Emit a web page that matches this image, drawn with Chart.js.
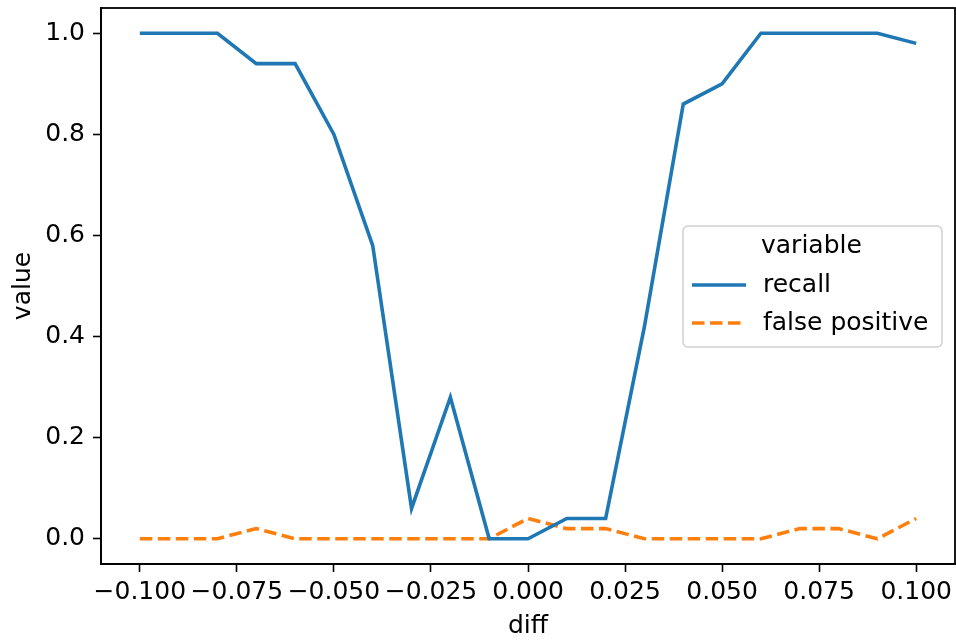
<!DOCTYPE html>
<html>
<head>
<meta charset="utf-8">
<script src="https://cdn.jsdelivr.net/npm/chart.js@4/dist/chart.umd.min.js"></script>
<style>
  html, body { margin: 0; padding: 0; background: #fff; }
  #wrap { width: 956px; height: 641px; }
</style>
</head>
<body>
<div id="wrap"><canvas id="chart" width="956" height="641"></canvas></div>
<script>
'use strict';

// ── Data ──────────────────────────────────────────────────────────────────────

const diffs = [
  -0.10, -0.09, -0.08, -0.07, -0.06, -0.05, -0.04, -0.03, -0.02, -0.01, 0.00,
  0.01, 0.02, 0.03, 0.04, 0.05, 0.06, 0.07, 0.08, 0.09, 0.10,
];
const recall = [
  1.0, 1.0, 1.0, 0.94, 0.94, 0.80, 0.58, 0.06, 0.28, 0.0, 0.0,
  0.04, 0.04, 0.42, 0.86, 0.90, 1.0, 1.0, 1.0, 1.0, 0.98,
];
const falsePositive = [
  0.0, 0.0, 0.0, 0.02, 0.0, 0.0, 0.0, 0.0, 0.0, 0.0, 0.04,
  0.02, 0.02, 0.0, 0.0, 0.0, 0.0, 0.02, 0.02, 0.0, 0.04,
];
const xTicks = [-0.1, -0.075, -0.05, -0.025, 0, 0.025, 0.05, 0.075, 0.1];
const yTicks = [0, 0.2, 0.4, 0.6, 0.8, 1.0];

const BLUE = '#1f77b4';
const ORANGE = '#ff7f0e';
const FONT = 'DejaVu Sans';
const FONT_SIZE = 25;
const LINE_W = 3.6;
const DASH = [12.5, 5.5];

const toPoints = (ys) => ys.map((y, i) => ({ x: diffs[i], y }));

// matplotlib-style minus sign
const fmt = (v, digits) => {
  const s = Math.abs(v).toFixed(digits);
  return (v < -1e-9 ? '\u2212' : '') + s;
};

// ── Plugins ───────────────────────────────────────────────────────────────────

// full black frame around the plot area
const frame = {
  id: 'frame',
  afterDatasetsDraw(chart) {
    const { ctx, chartArea: a } = chart;
    ctx.save();
    ctx.strokeStyle = '#000';
    ctx.lineWidth = 1.8;
    ctx.strokeRect(a.left, a.top, a.right - a.left, a.bottom - a.top);
    ctx.restore();
  },
};

// boxed legend with a title, placed inside the axes on the right
const boxLegend = {
  id: 'boxLegend',
  afterDraw(chart) {
    const { ctx } = chart;
    const x = 683, y = 226, w = 259, h = 121;
    ctx.save();
    ctx.beginPath();
    ctx.roundRect(x, y, w, h, 5);
    ctx.fillStyle = 'rgba(255,255,255,0.8)';
    ctx.fill();
    ctx.strokeStyle = '#d0d0d0';
    ctx.lineWidth = 1.5;
    ctx.stroke();

    ctx.fillStyle = '#000';
    ctx.font = `${FONT_SIZE}px "${FONT}"`;
    ctx.textBaseline = 'middle';
    ctx.textAlign = 'left';
    ctx.fillText('variable', 761, 246);

    const items = [
      { label: 'recall', color: BLUE, dash: [] },
      { label: 'false positive', color: ORANGE, dash: DASH },
    ];
    items.forEach((it, i) => {
      const cy = 285 + i * 38;
      ctx.beginPath();
      ctx.setLineDash(it.dash);
      ctx.strokeStyle = it.color;
      ctx.lineWidth = LINE_W;
      ctx.moveTo(692, cy);
      ctx.lineTo(746, cy);
      ctx.stroke();
      ctx.setLineDash([]);
      ctx.fillText(it.label, 763, cy);
    });
    ctx.restore();
  },
};

// ── Chart ─────────────────────────────────────────────────────────────────────

const tickFont = { family: FONT, size: FONT_SIZE };

new Chart(document.getElementById('chart'), {
  type: 'line',
  data: {
    datasets: [
      {
        label: 'recall',
        data: toPoints(recall),
        borderColor: BLUE,
        borderWidth: LINE_W,
        pointRadius: 0,
        tension: 0,
        fill: false,
      },
      {
        label: 'false positive',
        data: toPoints(falsePositive),
        borderColor: ORANGE,
        borderWidth: LINE_W,
        borderDash: DASH,
        pointRadius: 0,
        tension: 0,
        fill: false,
      },
    ],
  },
  options: {
    responsive: false,
    animation: false,
    layout: { padding: { top: 8, right: 1, left: 0, bottom: 0 } },
    plugins: {
      legend: { display: false },
      tooltip: { enabled: false },
    },
    scales: {
      x: {
        type: 'linear',
        min: -0.11,
        max: 0.11,
        afterBuildTicks: (s) => { s.ticks = xTicks.map((value) => ({ value })); },
        afterFit: (s) => {
          s.height = 77;
          s.paddingLeft = 0;
          s.paddingRight = 0;
        },
        ticks: {
          color: '#000',
          font: tickFont,
          padding: 5,
          maxRotation: 0,
          autoSkip: false,
          callback: (v) => fmt(v, 3),
        },
        grid: { drawOnChartArea: false, color: '#000', tickLength: 8, tickWidth: 1.6 },
        border: { display: true, color: '#000', width: 1.8 },
        title: { display: true, text: 'diff', color: '#000', font: tickFont, padding: { top: 0, bottom: 0 } },
      },
      y: {
        min: -0.05,
        max: 1.05,
        afterBuildTicks: (s) => { s.ticks = yTicks.map((value) => ({ value })); },
        afterFit: (s) => {
          s.width = 101;
          s.paddingTop = 0;
          s.paddingBottom = 0;
        },
        ticks: {
          color: '#000',
          font: tickFont,
          padding: 8,
          callback: (v) => fmt(v, 1),
        },
        grid: { drawOnChartArea: false, color: '#000', tickLength: 8, tickWidth: 1.6 },
        border: { display: true, color: '#000', width: 1.8 },
        title: { display: true, text: 'value', color: '#000', font: tickFont, padding: { top: 8, bottom: 0 } },
      },
    },
  },
  plugins: [frame, boxLegend],
});
</script>
</body>
</html>
